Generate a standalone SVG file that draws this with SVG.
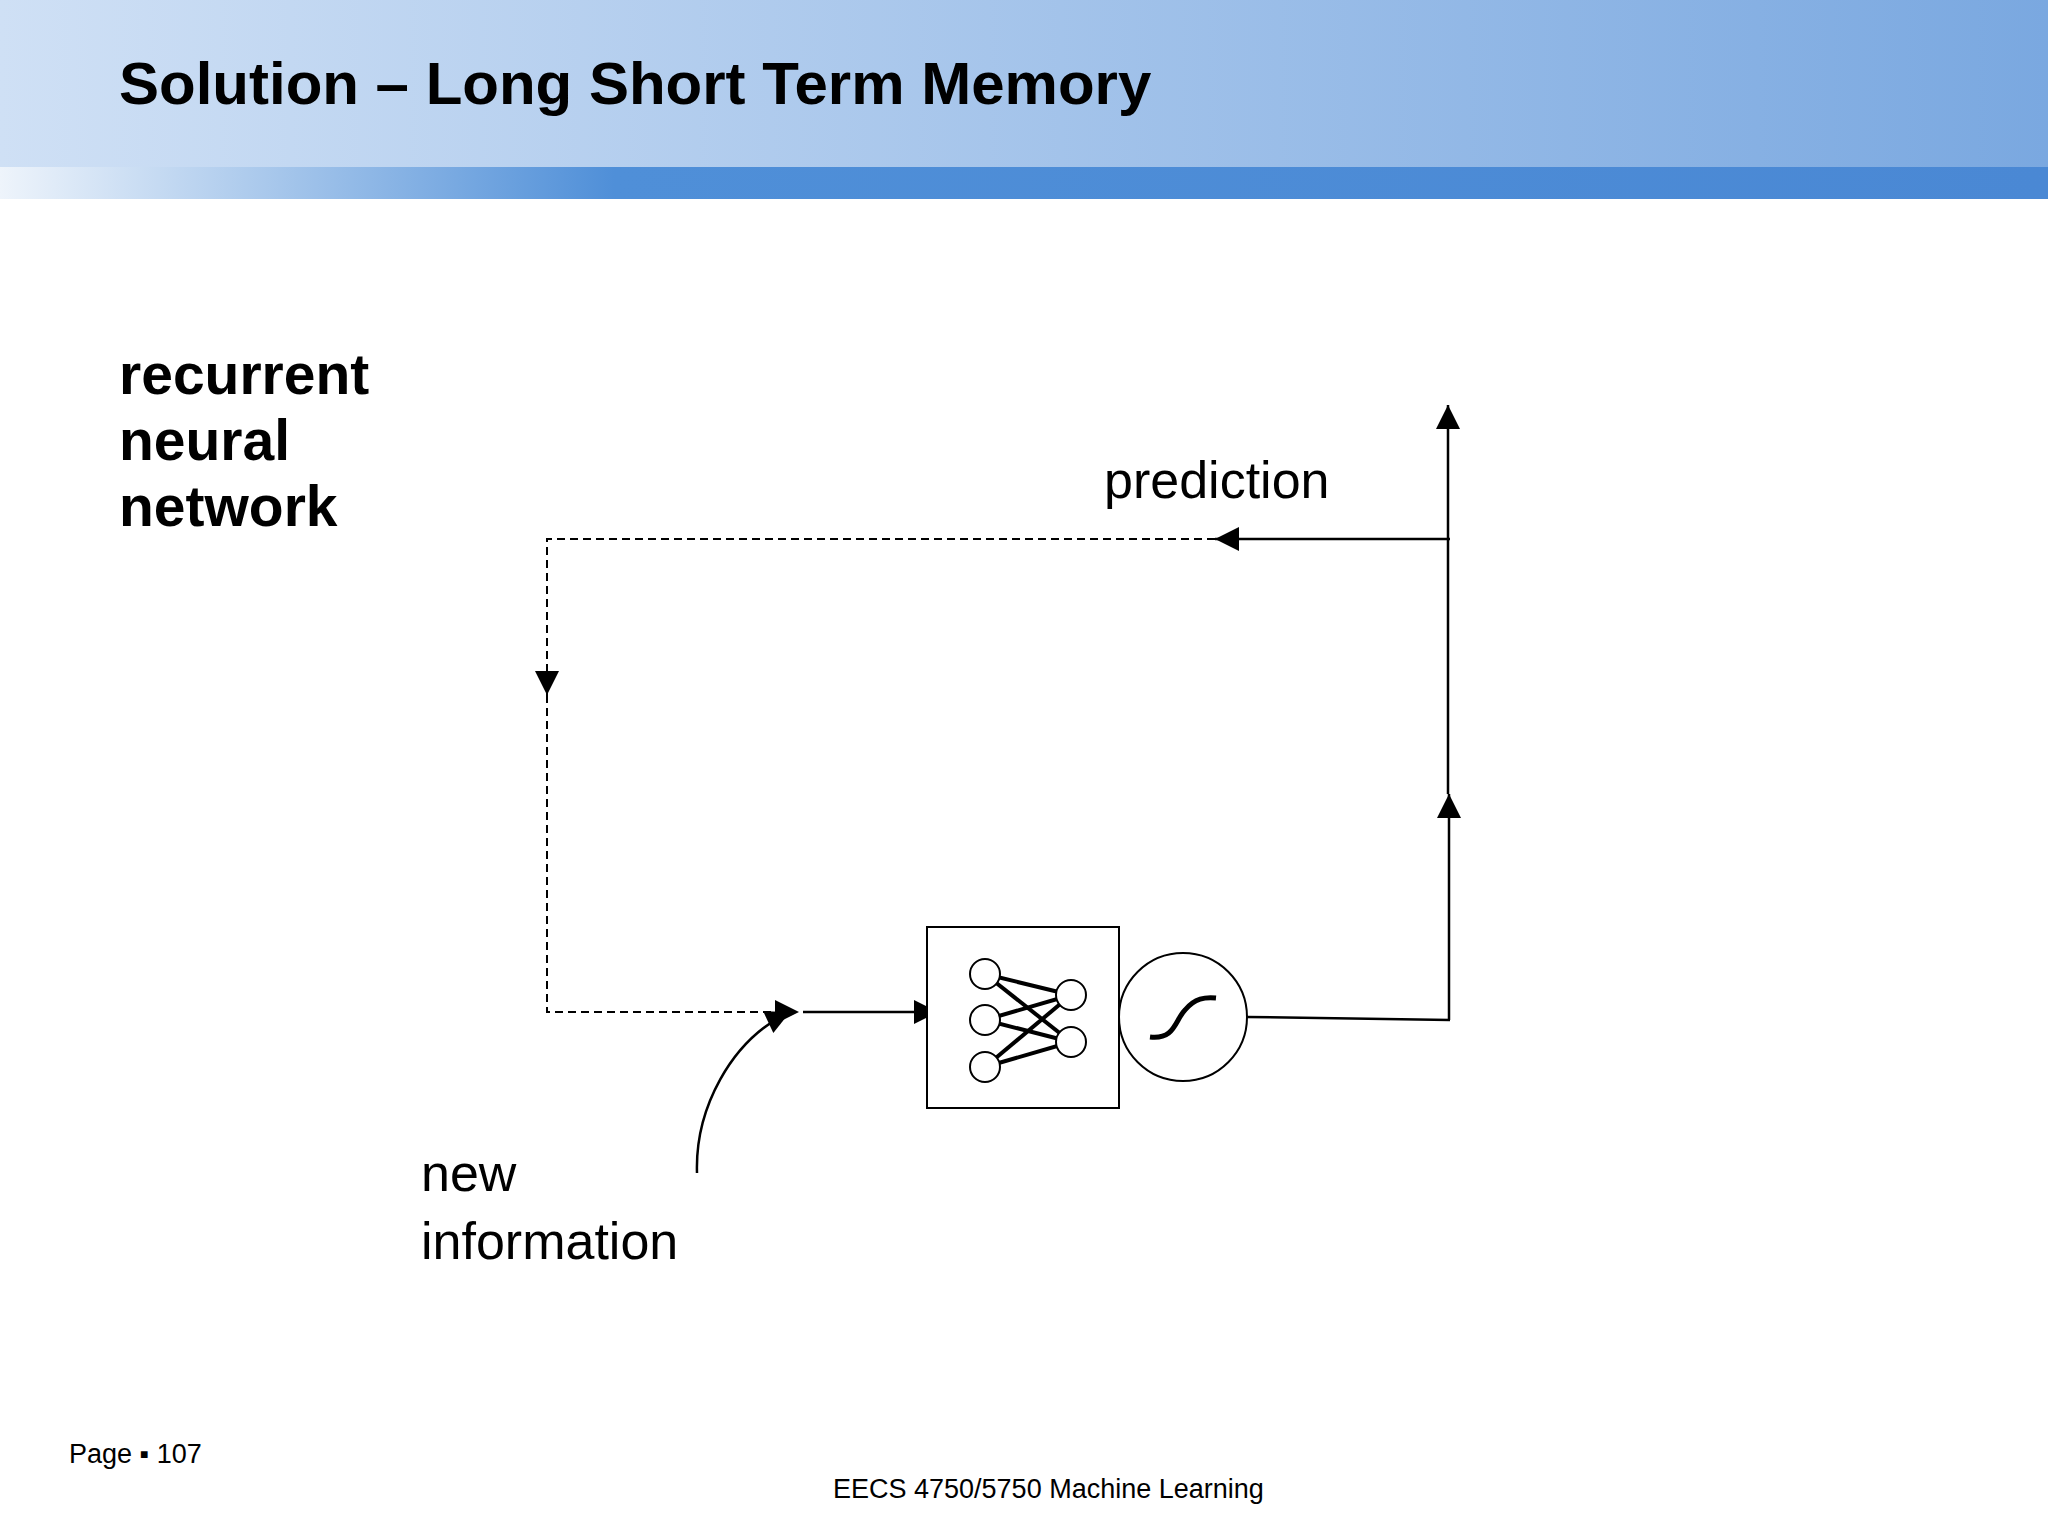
<svg xmlns="http://www.w3.org/2000/svg" width="2048" height="1536" viewBox="0 0 2048 1536">
<defs>
<linearGradient id="hd" x1="0" y1="0" x2="1" y2="0"><stop offset="0" stop-color="#cfe0f5"/><stop offset="1" stop-color="#7aa8e0"/></linearGradient>
<linearGradient id="bar" x1="0" y1="0" x2="1" y2="0"><stop offset="0" stop-color="#eef4fb"/><stop offset="0.3" stop-color="#4f8fd8"/><stop offset="1" stop-color="#4a88d4"/></linearGradient>
<marker id="ah" viewBox="0 0 10 10" refX="10" refY="5" markerWidth="10" markerHeight="10" markerUnits="userSpaceOnUse" orient="auto"><path d="M0,0L10,5L0,10z" fill="#000"/></marker>
<marker id="a" viewBox="0 0 10 10" refX="10" refY="5" markerWidth="28" markerHeight="24" markerUnits="userSpaceOnUse" orient="auto"><path d="M0,0L10,5L0,10z" fill="#000"/></marker>
</defs>
<style>
text{font-family:"Liberation Sans",Arial,sans-serif;fill:#000}
.s{stroke:#000;stroke-width:2.5;fill:none}
.d{stroke:#000;stroke-width:2;fill:none;stroke-dasharray:8,5}
.n{stroke:#000;stroke-width:2;fill:#fff}
</style>
<rect width="2048" height="167" fill="url(#hd)"/>
<rect y="167" width="2048" height="32" fill="url(#bar)"/>
<text x="119" y="104" font-size="60" font-weight="bold">Solution – Long Short Term Memory</text>
<g font-size="57" font-weight="bold"><text x="119" y="394">recurrent</text><text x="119" y="460">neural</text><text x="119" y="526">network</text></g>
<text x="1104" y="498" font-size="52">prediction</text>
<g font-size="52"><text x="421" y="1191">new</text><text x="421" y="1259">information</text></g>
<text x="69" y="1463" font-size="27">Page ▪ 107</text>
<text x="833" y="1498" font-size="27">EECS 4750/5750 Machine Learning</text>
<g id="connectors">
<path class="d" d="M1215,539H547V695" marker-end="url(#a)"/>
<path class="d" d="M547,695V1012H799" marker-end="url(#a)"/>
<path class="s" d="M1450,539H1215" marker-end="url(#a)"/>
<path class="s" d="M803,1012H938" marker-end="url(#a)"/>
<path class="s" d="M1247,1017L1450,1020"/>
<path class="s" d="M1449,1020V794" marker-end="url(#a)"/>
<path class="s" d="M1448,794V405" marker-end="url(#a)"/>
<path class="s" d="M697,1173C695,1110 730,1040 790,1012" marker-end="url(#a)"/>
</g>
<g id="net">
<rect x="927" y="927" width="192" height="181" fill="#fff" stroke="#000" stroke-width="2"/>
<g stroke="#000" stroke-width="4">
<line x1="985" y1="974" x2="1071" y2="995"/><line x1="985" y1="974" x2="1071" y2="1042"/>
<line x1="985" y1="1020" x2="1071" y2="995"/><line x1="985" y1="1020" x2="1071" y2="1042"/>
<line x1="985" y1="1067" x2="1071" y2="995"/><line x1="985" y1="1067" x2="1071" y2="1042"/>
</g>
<circle class="n" cx="985" cy="974" r="15"/><circle class="n" cx="985" cy="1020" r="15"/><circle class="n" cx="985" cy="1067" r="15"/>
<circle class="n" cx="1071" cy="995" r="15"/><circle class="n" cx="1071" cy="1042" r="15"/>
</g>
<g id="sigmoid">
<circle cx="1183" cy="1017" r="64" fill="#fff" stroke="#000" stroke-width="2"/>
<path d="M1150,1037C1175,1040 1175,1020 1185,1010C1195,998 1205,997 1216,998" fill="none" stroke="#000" stroke-width="5"/>
</g>
</svg>
